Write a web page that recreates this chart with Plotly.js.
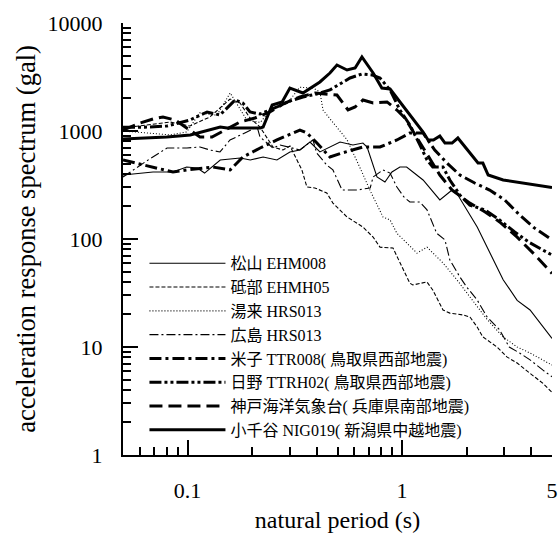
<!DOCTYPE html>
<html><head><meta charset="utf-8">
<script src="https://cdn.plot.ly/plotly-3.0.1.min.js"></script>
<style>html,body{margin:0;padding:0;background:#fff}#chart{width:560px;height:539px}</style>
</head><body><div id="chart"></div><script>
// Station names (legend labels)
const seriesNames = [
  "松山 EHM008",
  "砥部 EHMH05",
  "湯来 HRS013",
  "広島 HRS013",
  "米子 TTR008( 鳥取県西部地震)",
  "日野 TTRH02( 鳥取県西部地震)",
  "神戸海洋気象台( 兵庫県南部地震)",
  "小千谷 NIG019( 新潟県中越地震)"
];

// natural period (s) / acceleration response spectrum (gal)
const periodMatsuyama = [0.05,0.069,0.0855,0.099,0.111,0.12,0.142,0.176,0.196,0.225,0.261,0.30,0.334,0.372,0.414,0.461,0.514,0.59,0.657,0.687,0.764,0.832,0.897,0.977,1.05,1.253,1.50,1.71,1.82,2.24,2.96,3.44,3.95,5.0];
const accelMatsuyama  = [391,417,417,464,454,408,539,562,539,574,539,640,667,791,640,711,791,742,774,711,375,337,417,464,464,352,230,284,255,129,42,27,22,12];

const periodTobe = [0.05,0.0633,0.0828,0.1026,0.127,0.1577,0.1755,0.1955,0.2176,0.25,0.2787,0.3003,0.3235,0.3412,0.360,0.392,0.4456,0.476,0.554,0.657,0.733,0.789,0.907,0.977,1.087,1.122,1.307,1.39,1.50,1.552,1.67,1.92,2.07,2.24,2.38,2.77,3.08,3.44,3.95,4.54,5.0];
const accelTobe  = [1066,1137,1211,1112,1348,1977,1815,1319,1089,711,667,726,539,436,303,297,267,215,160,129,104,84,82.5,60,39,37.5,40,33.7,25.6,22,20.6,19.8,19,15.3,12.4,10,8.1,7.1,5.7,4.6,3.8];

const periodYuki = [0.05,0.083,0.099,0.114,0.137,0.158,0.189,0.218,0.25,0.291,0.334,0.384,0.414,0.428,0.476,0.554,0.642,0.71,0.815,0.879,0.946,1.054,1.174,1.307,1.39,1.552,1.80,2.07,2.49,2.96,3.44,3.95,5.0];
const accelYuki  = [1000,920,980,1470,1400,2250,1260,1200,1650,1800,2540,2500,2300,1560,1200,830,440,280,160,150,113,92,74,84,74,60,42,29,18,12.4,10,8.8,6.8];

const periodHiroshima = [0.05,0.0633,0.0802,0.0993,0.1143,0.127,0.1416,0.1577,0.189,0.211,0.2176,0.25,0.270,0.334,0.384,0.400,0.4456,0.476,0.525,0.616,0.71,0.733,0.815,0.879,0.946,1.02,1.087,1.212,1.307,1.39,1.45,1.585,1.67,1.86,2.0,2.24,2.49,2.85,3.16,3.53,3.95,4.54,5.0];
const accelHiroshima  = [375,516,696,696,711,667,640,826,979,1089,880,696,742,667,826,626,484,436,284,284,297,375,436,408,303,245,220,220,186,141,113,98,64,44.5,36,27.2,19,14.4,10,8.8,7.6,6.1,5.3];

const periodYonago = [0.05,0.069,0.0855,0.0993,0.131,0.158,0.181,0.218,0.261,0.334,0.360,0.401,0.461,0.525,0.657,0.789,0.946,1.087,1.253,1.42,1.62,1.86,2.18,2.56,3.01,3.53,4.15,5.0];
const accelYonago  = [539,464,417,436,464,436,574,696,826,1021,958,774,574,626,711,711,826,958,958,667,505,391,330,284,230,167,126,98];

const periodHino = [0.05,0.0633,0.0802,0.1026,0.1233,0.1416,0.1665,0.181,0.1955,0.2176,0.261,0.300,0.345,0.400,0.461,0.514,0.572,0.650,0.724,0.789,0.879,0.977,1.087,1.212,1.307,1.39,1.552,1.67,1.86,2.07,2.43,2.85,3.35,3.95,5.0];
const accelHino  = [1085,1085,1112,1264,1500,1406,1936,1815,1500,1436,1668,1896,2066,2203,2399,2724,3097,3374,3303,3097,2399,1565,1136,742,539,464,464,352,255,206,186,150,116,92,71];

const periodKobe = [0.05,0.060,0.069,0.0768,0.0874,0.0993,0.1143,0.130,0.1494,0.1755,0.206,0.242,0.284,0.334,0.393,0.437,0.497,0.560,0.604,0.657,0.733,0.851,0.946,1.03,1.15,1.32,1.50,1.71,2.07,2.44,2.85,3.44,4.17,5.0];
const accelKobe  = [1021,1186,1292,1348,1264,1066,880,880,1021,1211,1319,1500,1815,2066,2248,2203,2154,1565,1668,1936,1815,1858,1565,1320,918,600,391,284,215,178,144,104,71,48];

const periodOjiya = [0.05,0.080,0.103,0.142,0.153,0.218,0.225,0.248,0.276,0.300,0.345,0.414,0.461,0.497,0.554,0.604,0.650,0.733,0.805,0.879,1.253,1.322,1.40,1.50,1.585,1.71,1.82,2.26,2.38,2.52,2.96,5.0];
const accelOjiya  = [843,880,918,1089,1064,1064,1089,1741,1858,2500,2248,2843,3443,4083,3671,3830,4843,3443,2500,2448,979,826,826,899,774,774,861,505,505,391,352,300];

// axis tick labels
const xTickVals = [0.1, 1];
const xLabelVals = [0.1, 1, 5];
const xLabelText = ["0.1", "1", "5"];
const yTickVals = [1, 10, 100, 1000, 10000];
const yTickText = ["1", "10", "100", "1000", "10000"];

const periods = [periodMatsuyama, periodTobe, periodYuki, periodHiroshima, periodYonago, periodHino, periodKobe, periodOjiya];
const accels  = [accelMatsuyama, accelTobe, accelYuki, accelHiroshima, accelYonago, accelHino, accelKobe, accelOjiya];
const styles = [
  {width: 1.1, dash: "solid"},
  {width: 1.1, dash: "4px,2px"},
  {width: 1.1, dash: "1px,2px"},
  {width: 1.1, dash: "9px,3px,2px,3px"},
  {width: 3, dash: "12px,4px,3px,4px"},
  {width: 3, dash: "12px,3px,3px,3px,3px,3px"},
  {width: 3, dash: "13px,6px"},
  {width: 3, dash: "solid"}
];

const traces = seriesNames.map((n, i) => ({
  x: periods[i], y: accels[i], name: n, type: "scatter", mode: "lines",
  line: {color: "#000", width: styles[i].width, dash: styles[i].dash},
  // last series is drawn on the overlaying label axis (identical range) so that axis is rendered
  xaxis: i === seriesNames.length - 1 ? "x2" : "x", yaxis: "y"
}));

function minorVals(lo, hi) {
  const v = [];
  for (let d = lo; d < hi; d *= 10) for (let k = 2; k <= 9; k++) v.push(+(k * d).toPrecision(3));
  return v;
}
const xMinor = minorVals(0.01, 10).filter(v => v > 0.05 && v <= 5.0001);
const yMinor = minorVals(1, 10000);

const serif = "Liberation Serif, 'Noto Sans CJK JP', serif";
const xr = [Math.log10(0.05), Math.log10(5)];

const layout = {
  width: 560, height: 539,
  margin: {l: 123, r: 8, t: 23, b: 84},
  paper_bgcolor: "#fff", plot_bgcolor: "#fff",
  font: {family: serif, color: "#000", size: 20},
  showlegend: true,
  legend: {x: 0.05, y: 0.483, xanchor: "left", yanchor: "top", bgcolor: "rgba(0,0,0,0)",
           font: {family: serif, size: 16, color: "#000"}, itemwidth: 76, tracegroupgap: 0},
  xaxis: {
    type: "log", range: xr, tickmode: "array", tickvals: xTickVals, showticklabels: false,
    ticks: "inside", ticklen: 15, tickwidth: 2, tickcolor: "#000",
    minor: {tickmode: "array", tickvals: xMinor, ticks: "inside", ticklen: 8, tickwidth: 2, tickcolor: "#000", showgrid: false},
    showline: true, linewidth: 2, linecolor: "#000", showgrid: false, zeroline: false,
    title: {text: "natural period (s)", font: {size: 24, family: serif}, standoff: 55}
  },
  xaxis2: {
    type: "log", range: xr, overlaying: "x", anchor: "y", side: "bottom",
    tickmode: "array", tickvals: xLabelVals, ticktext: xLabelText, ticks: "",
    tickfont: {size: 22, family: serif}, ticklabelstandoff: 20,
    showline: false, showgrid: false, zeroline: false
  },
  yaxis: {
    type: "log", range: [0, 4], tickmode: "array", tickvals: yTickVals, ticktext: yTickText,
    ticks: "inside", ticklen: 15, tickwidth: 2, tickcolor: "#000",
    minor: {tickmode: "array", tickvals: yMinor, ticks: "inside", ticklen: 8, tickwidth: 2, tickcolor: "#000", showgrid: false},
    tickfont: {size: 22, family: serif}, ticklabelstandoff: 14,
    showline: true, linewidth: 2, linecolor: "#000", showgrid: false, zeroline: false,
    title: {text: "acceleration response spectrum (gal)", font: {size: 26.5, family: serif}, standoff: 4}
  }
};

Plotly.newPlot("chart", traces, layout, {displayModeBar: false, staticPlot: true});
</script></body></html>
